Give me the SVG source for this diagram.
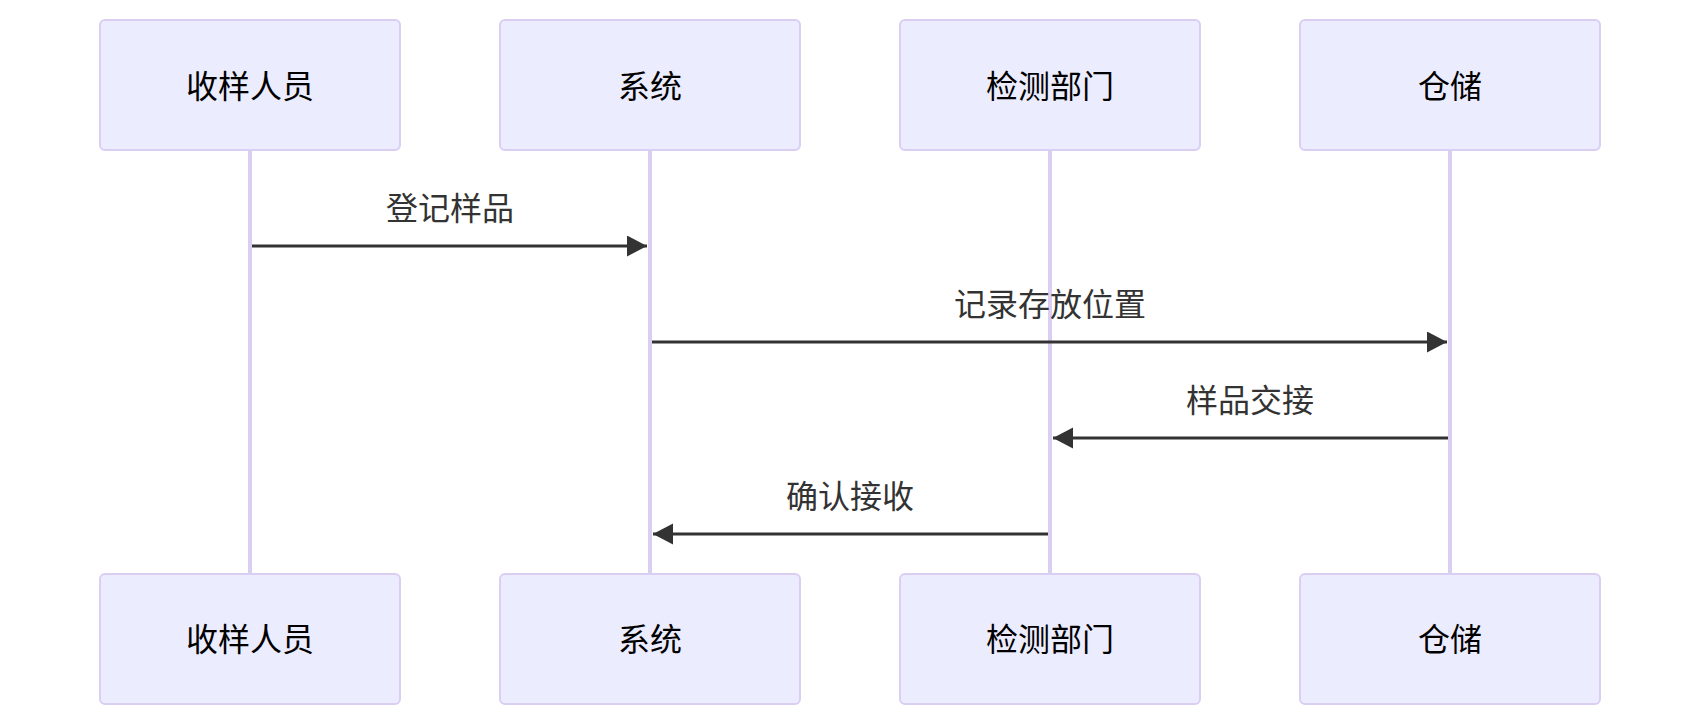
<svg xmlns="http://www.w3.org/2000/svg" width="1700" height="726" viewBox="0 0 1700 726">
<style>
.actor{fill:#ECECFF;stroke:#DACEF3;stroke-width:2}
.atext{font-family:"Liberation Sans","Noto Sans CJK SC",sans-serif;font-size:32px;fill:#000;text-anchor:middle}
.life{stroke:#DACEF3;stroke-width:4}
.msg{stroke:#333;stroke-width:3;fill:none;marker-end:url(#arrow)}
.mtext{font-family:"Liberation Sans","Noto Sans CJK SC",sans-serif;font-size:32px;fill:#333;text-anchor:middle}
</style>
<defs>
<marker id="arrow" markerUnits="userSpaceOnUse" markerWidth="22" markerHeight="22" refX="20" refY="10.5" orient="auto">
<path d="M0,0 L20,10.5 L0,21 Z" fill="#333"/>
</marker>
</defs>
<rect width="1700" height="726" fill="#fff"/>
<g id="lifelines">
<line class="life" x1="250" y1="150" x2="250" y2="574"/>
<line class="life" x1="650" y1="150" x2="650" y2="574"/>
<line class="life" x1="1050" y1="150" x2="1050" y2="574"/>
<line class="life" x1="1450" y1="150" x2="1450" y2="574"/>
</g>
<g id="actor-sampler-top"><rect class="actor" x="100" y="20" width="300" height="130" rx="5"/><text class="atext" x="250" y="98">收样人员</text></g>
<g id="actor-system-top"><rect class="actor" x="500" y="20" width="300" height="130" rx="5"/><text class="atext" x="650" y="98">系统</text></g>
<g id="actor-lab-top"><rect class="actor" x="900" y="20" width="300" height="130" rx="5"/><text class="atext" x="1050" y="98">检测部门</text></g>
<g id="actor-storage-top"><rect class="actor" x="1300" y="20" width="300" height="130" rx="5"/><text class="atext" x="1450" y="98">仓储</text></g>
<g id="actor-sampler-bottom"><rect class="actor" x="100" y="574" width="300" height="130" rx="5"/><text class="atext" x="250" y="651">收样人员</text></g>
<g id="actor-system-bottom"><rect class="actor" x="500" y="574" width="300" height="130" rx="5"/><text class="atext" x="650" y="651">系统</text></g>
<g id="actor-lab-bottom"><rect class="actor" x="900" y="574" width="300" height="130" rx="5"/><text class="atext" x="1050" y="651">检测部门</text></g>
<g id="actor-storage-bottom"><rect class="actor" x="1300" y="574" width="300" height="130" rx="5"/><text class="atext" x="1450" y="651">仓储</text></g>
<g id="connectors">
<line class="msg" x1="252" y1="246" x2="647" y2="246"/>
<text class="mtext" x="450" y="220">登记样品</text>
<line class="msg" x1="652" y1="342" x2="1447" y2="342"/>
<text class="mtext" x="1050" y="316">记录存放位置</text>
<line class="msg" x1="1448" y1="438" x2="1053" y2="438"/>
<text class="mtext" x="1250" y="412">样品交接</text>
<line class="msg" x1="1048" y1="534" x2="653" y2="534"/>
<text class="mtext" x="850" y="508">确认接收</text>
</g>
</svg>
